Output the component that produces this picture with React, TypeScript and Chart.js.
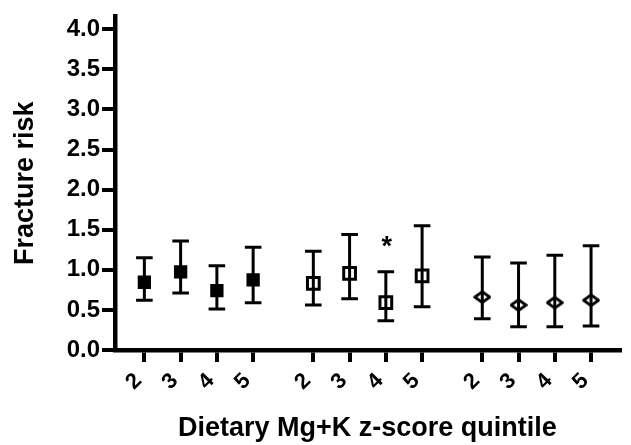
import React, { useEffect, useRef } from 'react';
import { Chart, registerables } from 'chart.js';

Chart.register(...registerables);

// ---------- data ----------
const quintileLabels = ['2', '3', '4', '5'];

// Group 1 (filled squares)
const meanA = [0.845, 0.975, 0.74, 0.875];
const lowA = [0.62, 0.71, 0.51, 0.59];
const highA = [1.15, 1.36, 1.05, 1.28];

// Group 2 (open squares)
const meanB = [0.83, 0.955, 0.59, 0.925];
const lowB = [0.56, 0.64, 0.365, 0.54];
const highB = [1.23, 1.44, 0.975, 1.55];

// Group 3 (open diamonds)
const meanC = [0.66, 0.56, 0.59, 0.62];
const lowC = [0.39, 0.29, 0.29, 0.3];
const highC = [1.16, 1.085, 1.18, 1.3];

// significance marks per point
const sigA = ['', '', '', ''];
const sigB = ['', '', '*', ''];
const sigC = ['', '', '', ''];

const yTickValues = [0, 0.5, 1.0, 1.5, 2.0, 2.5, 3.0, 3.5, 4.0];

const yTitle = 'Fracture risk';
const xTitle = 'Dietary Mg+K z-score quintile';

// ---------- layout constants ----------
const GROUP_STRIDE = 4.66;
const X_MIN = -0.81;
const X_MAX = 13.11;
const Y_MAX = 4.16;
const FONT = "'Liberation Sans', Arial, Helvetica, sans-serif";

const groups = [
  { mean: meanA, low: lowA, high: highA, sig: sigA, style: 'filled' },
  { mean: meanB, low: lowB, high: highB, sig: sigB, style: 'open' },
  { mean: meanC, low: lowC, high: highC, sig: sigC, style: 'diamond' },
];

const xPos = (g: number, q: number) => g * GROUP_STRIDE + q;

function makeDiamond(): HTMLCanvasElement {
  const c = document.createElement('canvas');
  c.width = 18;
  c.height = 14;
  const ctx = c.getContext('2d')!;
  ctx.strokeStyle = '#000';
  ctx.lineWidth = 2.8;
  ctx.lineJoin = 'round';
  ctx.beginPath();
  ctx.moveTo(1.6, 7);
  ctx.lineTo(9, 1.6);
  ctx.lineTo(16.4, 7);
  ctx.lineTo(9, 12.4);
  ctx.closePath();
  ctx.stroke();
  return c;
}

export default function App() {
  const ref = useRef<HTMLCanvasElement | null>(null);

  useEffect(() => {
    if (!ref.current) return;
    const diamond = makeDiamond();

    const datasets: any[] = [];
    const tickPositions: number[] = [];
    const tickLabels: string[] = [];

    groups.forEach((grp, g) => {
      const whisker: any[] = [];
      const caps: any[] = [];
      const pts: any[] = [];
      grp.mean.forEach((m, q) => {
        const x = xPos(g, q);
        tickPositions.push(x);
        tickLabels.push(quintileLabels[q]);
        whisker.push({ x, y: grp.low[q] }, { x, y: grp.high[q] }, { x, y: null });
        caps.push({ x, y: grp.low[q] }, { x, y: grp.high[q] });
        pts.push({ x, y: m });
      });
      datasets.push({
        type: 'line',
        data: whisker,
        borderColor: '#000',
        borderWidth: 3,
        pointRadius: 0,
        spanGaps: false,
        order: 3,
      });
      datasets.push({
        type: 'scatter',
        data: caps,
        pointStyle: 'line',
        pointRadius: 8.3,
        borderColor: '#000',
        pointBorderWidth: 3,
        borderWidth: 3,
        order: 2,
      });
      const markerStyle: any =
        grp.style === 'filled'
          ? { pointStyle: 'rect', pointRadius: 8, backgroundColor: '#000', borderColor: '#000', borderWidth: 2 }
          : grp.style === 'open'
          ? { pointStyle: 'rect', pointRadius: 8.3, backgroundColor: 'rgba(0,0,0,0)', borderColor: '#000', borderWidth: 3 }
          : { pointStyle: diamond, pointRadius: 8, backgroundColor: 'rgba(0,0,0,0)', borderColor: '#000' };
      datasets.push({ type: 'scatter', data: pts, order: 1, ...markerStyle });
    });

    const sigPlugin = {
      id: 'sigMarks',
      afterDatasetsDraw(chart: any) {
        const { ctx, scales } = chart;
        ctx.save();
        ctx.fillStyle = '#000';
        ctx.font = `bold 27px ${FONT}`;
        ctx.textAlign = 'center';
        ctx.textBaseline = 'alphabetic';
        groups.forEach((grp, g) => {
          grp.sig.forEach((s, q) => {
            if (!s) return;
            const px = scales.x.getPixelForValue(xPos(g, q));
            const py = scales.y.getPixelForValue(grp.high[q]);
            ctx.fillText(s, px + 1, py - 17);
          });
        });
        ctx.restore();
      },
    };

    const chart = new Chart(ref.current, {
      type: 'scatter',
      data: { datasets },
      options: {
        animation: false,
        responsive: false,
        events: [],
        layout: { padding: { top: 10, right: 8, left: 0, bottom: 0 } },
        plugins: { legend: { display: false }, tooltip: { enabled: false } },
        scales: {
          x: {
            type: 'linear',
            min: X_MIN,
            max: X_MAX,
            afterBuildTicks: (axis: any) => {
              axis.ticks = tickPositions.map((v) => ({ value: v }));
            },
            afterFit: (scale: any) => {
              scale.height = 95;
            },
            ticks: {
              autoSkip: false,
              minRotation: 45,
              maxRotation: 45,
              padding: 6,
              labelOffset: -6,
              color: '#000',
              font: { family: FONT, size: 22, weight: 'bold' },
              callback: (_v: any, i: number) => tickLabels[i],
            },
            grid: { drawOnChartArea: false, drawTicks: true, tickLength: 12, lineWidth: 4, color: '#000' },
            border: { display: true, width: 4.5, color: '#000' },
            title: {
              display: true,
              text: xTitle,
              color: '#000',
              font: { family: FONT, size: 27, weight: 'bold' },
              padding: { top: 0, bottom: 0 },
            },
          },
          y: {
            type: 'linear',
            min: 0,
            max: Y_MAX,
            afterBuildTicks: (axis: any) => {
              axis.ticks = yTickValues.map((v) => ({ value: v }));
            },
            afterFit: (scale: any) => {
              scale.width = 115;
            },
            ticks: {
              padding: 2,
              color: '#000',
              font: { family: FONT, size: 24, weight: 'bold' },
              callback: (v: any) => Number(v).toFixed(1),
            },
            grid: { drawOnChartArea: false, drawTicks: true, tickLength: 13, lineWidth: 4, color: '#000' },
            border: { display: true, width: 4.5, color: '#000' },
            title: {
              display: true,
              text: yTitle,
              color: '#000',
              font: { family: FONT, size: 27, weight: 'bold' },
              padding: { top: 9, bottom: 0 },
            },
          },
        },
      } as any,
      plugins: [sigPlugin],
    });
    return () => chart.destroy();
  }, []);

  return (
    <div style={{ position: 'fixed', left: 0, top: 0, width: 631, height: 445, background: '#fff' }}>
      <canvas ref={ref} width={631} height={445} style={{ display: 'block', width: 631, height: 445 }} />
    </div>
  );
}
